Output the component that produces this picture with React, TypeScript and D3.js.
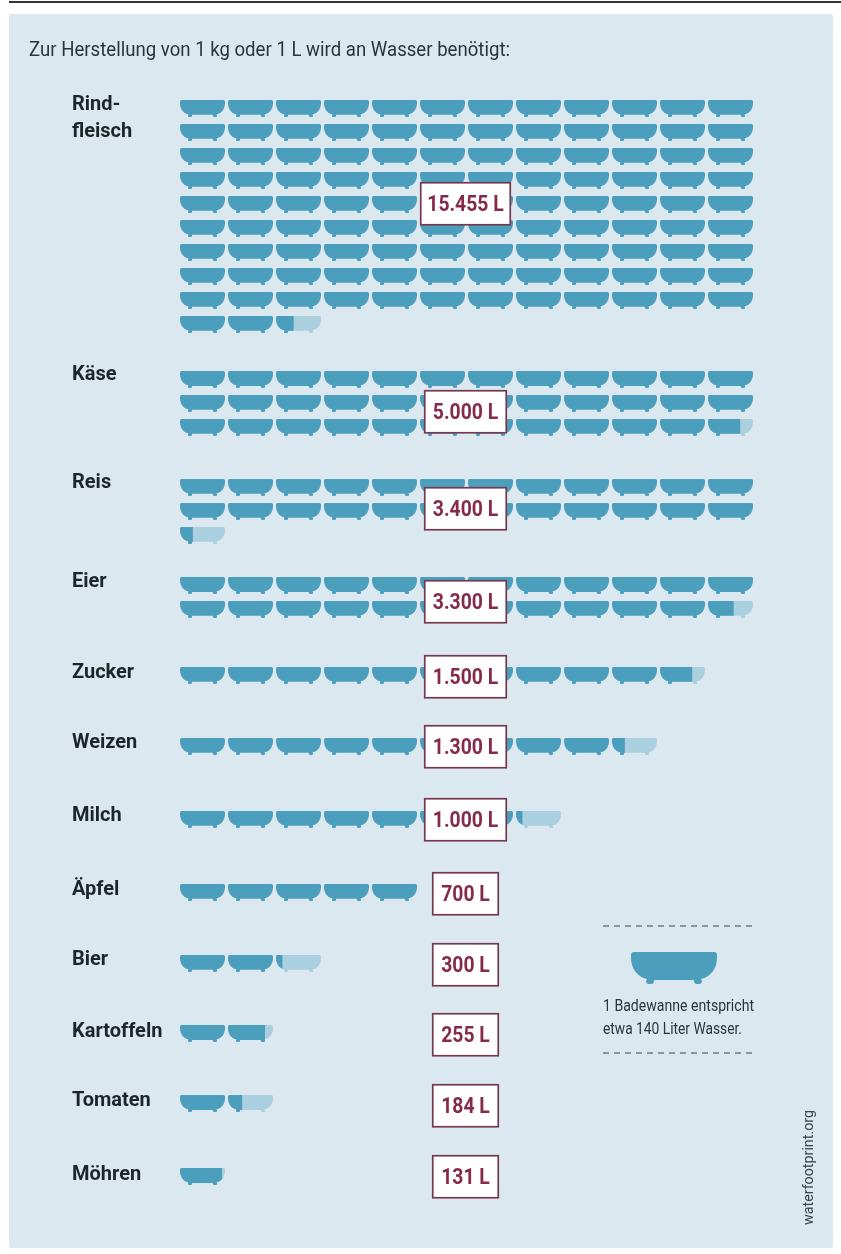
import React from "react";
import * as d3 from "d3";

const title = "Zur Herstellung von 1 kg oder 1 L wird an Wasser benötigt:";
const products = ["Rind-|fleisch", "Käse", "Reis", "Eier", "Zucker", "Weizen", "Milch", "Äpfel", "Bier", "Kartoffeln", "Tomaten", "Möhren"];
const litres = [15455, 5000, 3400, 3300, 1500, 1300, 1000, 700, 300, 255, 184, 131];
const litreLabels = ["15.455 L", "5.000 L", "3.400 L", "3.300 L", "1.500 L", "1.300 L", "1.000 L", "700 L", "300 L", "255 L", "184 L", "131 L"];
const litresPerTub = 140;
const tubsPerRow = 12;
const legendLines = ["1 Badewanne entspricht", "etwa 140 Liter Wasser."];
const source = "waterfootprint.org";

// Layout (reference pixels), separate from the data
const groupTops = [100, 371, 479, 577, 667, 738, 811, 884, 955, 1025, 1095, 1168];
const labelBaselines = [110, 380, 488, 587, 678, 748, 821, 895, 965, 1037, 1106, 1180];
const boxTops = [182, 390, 487, 580, 655, 725, 798, 872, 943, 1013, 1084, 1155];
const legendWidths = [151, 139];
const FONT = "Roboto, sans-serif";
const TUB = "M3,0 H83 Q86,0 86,3 V6 C86,16 80,25 70,27 L71,29 Q71,32 68,32 H66 Q63,32 63,29 L62.5,28 H23.5 L23,29 Q23,32 20,32 H18 Q15,32 15,29 L16,27 C6,25 0,16 0,6 V3 Q0,0 3,0 Z";
const DARK = "#4c9fbc";
const LIGHT = "#aacfdf";
const RED = "#862a4c";
const BORDER = "#763750";
const INK = "#2c363b";

const colX = d3.scaleLinear().domain([0, tubsPerRow]).range([180, 756]);
const rowY = d3.scaleLinear().domain([0, 1]).range([0, 24]);
const TUB_W = 45;
const sx = TUB_W / 86;
const sy = 17 / 32;

type Tub = { key: string; x: number; y: number; fill: number };

function tubsFor(value: number, top: number, g: number): Tub[] {
  const n = value / litresPerTub;
  return d3.range(Math.ceil(n)).map((i) => ({
    key: `${g}-${i}`,
    x: colX(i % tubsPerRow),
    y: top + rowY(Math.floor(i / tubsPerRow)),
    fill: Math.min(1, n - i),
  }));
}

export default function App() {
  return (
    <svg width={841} height={1254} style={{ position: "absolute", left: 0, top: 0, display: "block", background: "#fff" }}>
      <defs>
        <filter id="soft" x="-2%" y="-2%" width="104%" height="104%">
          <feGaussianBlur stdDeviation="0.6" />
        </filter>
        <filter id="softText" x="-5%" y="-20%" width="110%" height="140%">
          <feGaussianBlur stdDeviation="0.3" />
        </filter>
      </defs>
      <rect x={9} y={1} width={832} height={2} fill="#333" />
      <rect x={9} y={14} width={824} height={1234} rx={3} fill="#dbe8ef" />
      <text x={29} y={56} fontFamily={FONT} fontSize={21} fill={INK} filter="url(#softText)" textLength={481} lengthAdjust="spacingAndGlyphs">{title}</text>

      <g filter="url(#soft)">
        {litres.map((v, g) => (
          <g key={g}>
            {tubsFor(v, groupTops[g], g).map((t) => (
              <g key={t.key} transform={`translate(${t.x},${t.y})`}>
                {t.fill < 1 && <path d={TUB} transform={`scale(${sx},${sy})`} fill={LIGHT} />}
                <clipPath id={`c${t.key}`}>
                  <rect x={0} y={-1} width={TUB_W * t.fill} height={20} />
                </clipPath>
                <g clipPath={`url(#c${t.key})`}>
                  <path d={TUB} transform={`scale(${sx},${sy})`} fill={DARK} />
                </g>
              </g>
            ))}
          </g>
        ))}
      </g>

      {products.map((p, g) =>
        p.split("|").map((line, i) => (
          <text key={`${g}-${i}`} x={72} y={labelBaselines[g] + i * 27} fontFamily={FONT} fontWeight={700} fontSize={20} fill="#1f272b" filter="url(#softText)">{line}</text>
        ))
      )}

      {litreLabels.map((label, g) => {
        const w = label.length > 7 ? 91 : label.length > 5 ? 83 : 67;
        const cx = 465.5;
        return (
          <g key={label}>
            <rect x={cx - w / 2 + 0.75} y={boxTops[g] + 0.75} width={w - 1.5} height={42} fill="#fff" stroke={BORDER} strokeWidth={1.7} />
            <text transform={`translate(${cx},${boxTops[g] + 29}) scale(0.88,1)`} textAnchor="middle" fontFamily={FONT} fontWeight={700} fontSize={22} fill={RED} filter="url(#softText)">{label}</text>
          </g>
        );
      })}

      <line x1={603} x2={755} y1={926} y2={926} stroke="#444" strokeWidth={1.2} strokeDasharray="6 5" />
      <line x1={603} x2={755} y1={1053} y2={1053} stroke="#444" strokeWidth={1.2} strokeDasharray="6 5" />
      <path d={TUB} transform="translate(631,952)" fill={DARK} filter="url(#soft)" />
      {legendLines.map((l, i) => (
        <text key={l} x={603} y={1011 + i * 23} fontFamily={FONT} fontSize={17} fill={INK} filter="url(#softText)" textLength={legendWidths[i]} lengthAdjust="spacingAndGlyphs">{l}</text>
      ))}
      <text transform="translate(813,1225) rotate(-90)" fontFamily={FONT} fontSize={15} fill="#3a4448" filter="url(#softText)" textLength={115} lengthAdjust="spacingAndGlyphs">{source}</text>
    </svg>
  );
}
